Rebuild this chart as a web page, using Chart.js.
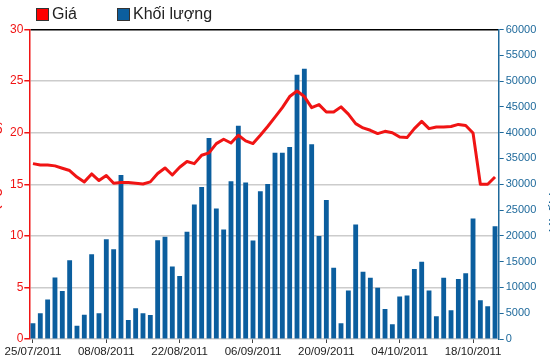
<!DOCTYPE html>
<html>
<head>
<meta charset="utf-8">
<script src="https://cdn.jsdelivr.net/npm/chart.js@4"></script>
<style>
  body { margin: 0; background: #fff; }
  #wrap { position: relative; width: 550px; height: 364px; font-family: "Liberation Sans", Arial, sans-serif; }
  #myChart { position: absolute; left: 0; top: 0; }
  .box { position: absolute; width: 11px; height: 11px; top: 8px; border: 1px solid #333; }
  .lbl { position: absolute; top: 6px; font-size: 16px; line-height: 16px; color: #222; }
</style>
</head>
<body>
<div id="wrap">
  <canvas id="myChart" width="550" height="364"></canvas>
  <span class="box" style="left:36px; background:#f00;"></span>
  <span class="lbl" style="left:52px;">Giá</span>
  <span class="box" style="left:117px; background:#0b5e9e;"></span>
  <span class="lbl" style="left:133px;">Khối lượng</span>
</div>
<script>
let canvas = document.getElementById("myChart");

const dates = [
  "25/07/2011", "26/07/2011", "27/07/2011", "28/07/2011", "29/07/2011",
  "01/08/2011", "02/08/2011", "03/08/2011", "04/08/2011", "05/08/2011",
  "08/08/2011", "09/08/2011", "10/08/2011", "11/08/2011", "12/08/2011",
  "15/08/2011", "16/08/2011", "17/08/2011", "18/08/2011", "19/08/2011",
  "22/08/2011", "23/08/2011", "24/08/2011", "25/08/2011", "26/08/2011",
  "29/08/2011", "30/08/2011", "31/08/2011", "01/09/2011", "05/09/2011",
  "06/09/2011", "07/09/2011", "08/09/2011", "09/09/2011", "12/09/2011",
  "13/09/2011", "14/09/2011", "15/09/2011", "16/09/2011", "19/09/2011",
  "20/09/2011", "21/09/2011", "22/09/2011", "23/09/2011", "26/09/2011",
  "27/09/2011", "28/09/2011", "29/09/2011", "30/09/2011", "03/10/2011",
  "04/10/2011", "05/10/2011", "06/10/2011", "07/10/2011", "10/10/2011",
  "11/10/2011", "12/10/2011", "13/10/2011", "14/10/2011", "17/10/2011",
  "18/10/2011", "19/10/2011", "20/10/2011", "21/10/2011",
];

// Giá (left axis)
const gia = [
  17.0, 16.87, 16.87, 16.78, 16.55, 16.33, 15.7, 15.23, 16.0, 15.36,
  15.85, 15.1, 15.17, 15.17, 15.1, 15.03, 15.23, 16.04, 16.58, 15.9,
  16.65, 17.2, 17.0, 17.81, 18.04, 18.94, 19.36, 19.0, 19.75, 19.2,
  18.94, 19.75, 20.6, 21.5, 22.43, 23.5, 24.04, 23.5, 22.43, 22.72,
  22.0, 22.0, 22.5, 21.8, 20.88, 20.46, 20.23, 19.91, 20.13, 20.0,
  19.58, 19.52, 20.39, 21.1, 20.39, 20.55, 20.55, 20.6, 20.8, 20.7,
  19.97, 15.0, 15.0, 15.7,
];

// Khối lượng (right axis)
const khoiLuong = [
  3040, 4970, 7680, 11940, 9290, 15290, 2580, 4710, 16450, 4970,
  19350, 17420, 31800, 3680, 5940, 4970, 4650, 19160, 19800, 14070,
  12190, 20770, 26070, 29480, 38960, 25290, 21230, 30580, 41360, 30320,
  19100, 28640, 30060, 36130, 36130, 37220, 51230, 52390, 37740, 19990,
  26960, 13800, 3040, 9420, 22190, 13030, 11870, 9940, 5810, 2840,
  8260, 8450, 13550, 14970, 9420, 4390, 11870, 5550, 11610, 12770,
  23350, 7490, 6330, 21870,
];

const leftTicks = { min: 0, max: 30, step: 5 };
const rightTicks = { min: 0, max: 60000, step: 5000 };
const labelEvery = 10;

const RED = "rgb(240, 20, 20)";
const BLUE = "#0b5e9e";
const AXIS_BLUE = "rgb(30, 105, 155)";

// axis titles that sit mostly outside the canvas
const sideTitles = {
  id: "sideTitles",
  afterDraw(c) {
    const ctx = c.ctx;
    ctx.save();
    ctx.font = "16px 'Liberation Sans', Arial, sans-serif";
    ctx.textAlign = "center";
    ctx.textBaseline = "alphabetic";
    ctx.fillStyle = RED;
    ctx.translate(-1, 180);
    ctx.rotate(-Math.PI / 2);
    ctx.fillText("Giá (nghìn đồng)", 0, 0);
    ctx.restore();
    ctx.save();
    ctx.font = "16px 'Liberation Sans', Arial, sans-serif";
    ctx.textAlign = "center";
    ctx.fillStyle = AXIS_BLUE;
    ctx.translate(561, 193);
    ctx.rotate(-Math.PI / 2);
    ctx.fillText("Khối lượng", 0, 0);
    ctx.restore();
  },
};

let chart = new Chart(canvas, {
  type: "bar",
  data: {
    labels: dates,
    datasets: [
      {
        type: "line",
        label: "Giá",
        data: gia,
        yAxisID: "y",
        borderColor: RED,
        borderWidth: 3,
        pointRadius: 0,
        tension: 0,
        borderJoinStyle: "round",
        order: 0,
      },
      {
        label: "Khối lượng",
        data: khoiLuong,
        yAxisID: "y1",
        backgroundColor: BLUE,
        barPercentage: 0.66,
        categoryPercentage: 1,
        order: 1,
      },
    ],
  },
  options: {
    responsive: false,
    animation: false,
    devicePixelRatio: 1,
    layout: { padding: { top: 29.5, left: 0, right: 0, bottom: 0 } },
    plugins: { legend: { display: false }, tooltip: { enabled: false } },
    scales: {
      x: {
        type: "category",
        offset: true,
        grid: {
          offset: false,
          drawOnChartArea: false,
          tickLength: 4,
          color: (ctx) => (ctx.index % labelEvery === 0 ? "#444" : "rgba(0,0,0,0)"),
        },
        border: { display: false },
        ticks: {
          autoSkip: false,
          maxRotation: 0,
          padding: 2,
          color: "#222",
          font: { family: "'Liberation Sans', Arial, sans-serif", size: 11.5 },
          callback: (v, i) => (i % labelEvery === 0 ? dates[i] : ""),
        },
        afterFit: (s) => { s.height = 25; },
      },
      y: {
        position: "left",
        min: leftTicks.min,
        max: leftTicks.max,
        ticks: {
          stepSize: leftTicks.step,
          color: RED,
          padding: 1,
          font: { family: "'Liberation Sans', Arial, sans-serif", size: 12 },
        },
        grid: {
          color: (ctx) => (ctx.tick && ctx.tick.value === leftTicks.max ? "#000" : "#cccccc"),
          lineWidth: 1.5,
          tickColor: RED,
          tickLength: 5,
        },
        border: { color: RED, width: 1.5 },
        afterFit: (s) => { s.width = 29.3; },
      },
      y1: {
        position: "right",
        min: rightTicks.min,
        max: rightTicks.max,
        ticks: {
          stepSize: rightTicks.step,
          color: AXIS_BLUE,
          padding: 2,
          font: { family: "'Liberation Sans', Arial, sans-serif", size: 11 },
          callback: (v) => String(v),
        },
        grid: { drawOnChartArea: false, tickColor: AXIS_BLUE, tickLength: 5 },
        border: { color: AXIS_BLUE, width: 1.5 },
        afterFit: (s) => { s.width = 51.3; },
      },
    },
  },
  plugins: [sideTitles],
});
</script>
</body>
</html>
